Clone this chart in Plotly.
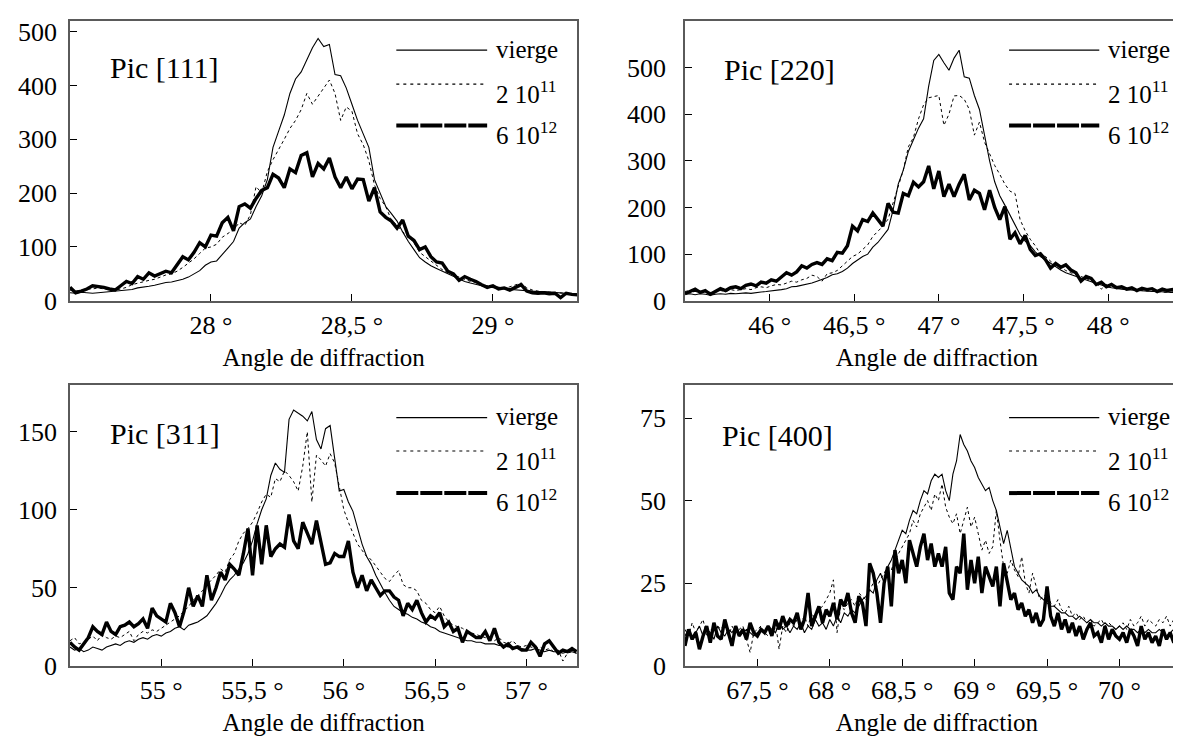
import plotly.graph_objects as go

# ---------------- data ----------------
SERIES_NAMES = ["vierge", "2 10<sup>11</sup>", "6 10<sup>12</sup>"]
PEAK_LABELS = ["Pic [111]", "Pic [220]", "Pic [311]", "Pic [400]"]
AXIS_TITLE = "Angle de diffraction"

# measurement grids (diffraction angle, degrees)
ANGLE_111 = [round(27.50 + 0.02 * i, 3) for i in range(91)]
ANGLE_220 = [round(45.50 + 0.03 * i, 3) for i in range(100)]
ANGLE_311 = [round(54.50 + 0.025 * i, 3) for i in range(112)]
ANGLE_400 = [round(67.00 + 0.025 * i, 3) for i in range(140)]

# Pic [111]
VIERGE_111 = [15, 14, 16, 15, 14, 15, 16, 17, 17, 18,
              19, 21, 24, 25, 27, 29, 32, 34, 35, 37,
              40, 44, 50, 56, 66, 72, 74, 85, 98, 110,
              135, 145, 152, 175, 195, 225, 285, 315, 345, 385,
              412, 425, 448, 470, 487, 472, 476, 420, 418, 395,
              365, 335, 310, 285, 225, 200, 175, 162, 148, 128,
              110, 95, 80, 72, 65, 60, 55, 50, 45, 40,
              36, 33, 30, 28, 26, 24, 23, 22, 21, 20,
              20, 19, 18, 17, 17, 16, 15, 15, 14, 13,
              13]
DOSE1_111 = [20, 18, 20, 22, 22, 24, 22, 21, 20, 22,
             25, 30, 33, 36, 38, 40, 44, 48, 50, 55,
             62, 70, 78, 88, 98, 100, 105, 118, 125, 132,
             145, 140, 160, 212, 200, 240, 262, 280, 300, 320,
             335, 355, 385, 365, 380, 395, 410, 385, 335, 360,
             352, 310, 290, 260, 215, 190, 175, 150, 140, 128,
             120, 108, 90, 82, 74, 65, 58, 52, 48, 43,
             40, 36, 34, 30, 28, 27, 26, 24, 26, 30,
             33, 24, 20, 18, 17, 17, 15, 14, 13, 13,
             12]
DOSE2_111 = [25, 15, 18, 22, 28, 27, 25, 22, 20, 28,
             36, 32, 45, 40, 52, 46, 50, 55, 52, 66,
             82, 76, 90, 108, 100, 122, 120, 145, 155, 130,
             175, 180, 172, 190, 205, 210, 235, 228, 210, 245,
             238, 270, 275, 230, 255, 245, 265, 230, 210, 230,
             208, 226, 225, 185, 210, 165, 155, 148, 135, 150,
             120, 112, 95, 100, 82, 72, 70, 55, 50, 38,
             45, 40, 36, 30, 25, 28, 22, 24, 20, 25,
             30, 18, 15, 14, 15, 13, 14, 6, 14, 12,
             11]

# Pic [220]
VIERGE_220 = [14, 15, 13, 15, 14, 12, 14, 15, 14, 16,
              15, 16, 17, 16, 18, 19, 20, 21, 22, 24,
              26, 30, 31, 33, 35, 38, 42, 46, 50, 56,
              58, 63, 70, 80, 88, 95, 100, 115, 125, 140,
              153, 195, 250, 280, 320, 345, 370, 390, 460, 515,
              528, 510, 494, 520, 537, 480, 477, 440, 410, 355,
              300, 255, 225, 205, 185, 165, 142, 128, 118, 105,
              95, 88, 80, 72, 66, 60, 56, 52, 48, 44,
              40, 37, 34, 30, 28, 26, 25, 24, 23, 22,
              22, 21, 20, 20, 19, 19, 18, 18, 17, 17]
DOSE1_220 = [20, 22, 18, 22, 20, 18, 20, 22, 20, 24,
             22, 24, 26, 24, 28, 30, 28, 32, 35, 34,
             38, 42, 40, 45, 48, 55, 52, 42, 58, 60,
             65, 75, 85, 95, 100, 110, 120, 138, 150, 160,
             175, 210, 245, 280, 330, 350, 390, 420, 435, 438,
             440, 376, 400, 439, 440, 432, 410, 355, 383, 340,
             313, 290, 271, 250, 235, 230, 174, 150, 132, 118,
             100, 95, 85, 77, 72, 65, 60, 56, 52, 48,
             42, 40, 25, 35, 33, 30, 28, 27, 26, 24,
             22, 21, 20, 20, 19, 18, 18, 17, 17, 16]
DOSE2_220 = [15, 20, 25, 18, 22, 14, 20, 26, 22, 28,
             30, 26, 33, 36, 32, 40, 38, 45, 42, 52,
             60, 55, 62, 75, 70, 78, 82, 78, 90, 86,
             104, 102, 118, 160, 150, 174, 170, 188, 175, 160,
             209, 190, 188, 230, 225, 254, 244, 255, 289, 240,
             278, 223, 250, 223, 250, 271, 216, 237, 230, 195,
             237, 200, 174, 202, 132, 146, 122, 140, 110, 97,
             101, 88, 70, 80, 72, 77, 66, 60, 42, 52,
             48, 35, 40, 30, 35, 28, 30, 25, 28, 22,
             27, 24, 26, 20, 25, 22, 24, 18, 22, 20]

# Pic [311]
VIERGE_311 = [12, 10, 11, 9, 10, 12, 11, 10, 12, 13,
              14, 13, 15, 16, 15, 17, 18, 17, 19, 20,
              19, 21, 22, 24, 25, 23, 26, 27, 28, 30,
              32, 36, 40, 45, 51, 55, 58, 62, 66, 72,
              80, 91, 100, 107, 122, 130, 126, 124, 158, 164,
              162, 160, 157, 163, 145, 139, 152, 154, 133, 112,
              113, 105, 99, 88, 78, 70, 65, 58, 52, 47,
              42, 38, 36, 34, 33, 31, 30, 28, 27, 25,
              24, 22, 21, 20, 19, 18, 17, 16, 16, 15,
              15, 14, 14, 14, 13, 13, 12, 12, 11, 11,
              10, 10, 11, 10, 9, 10, 9, 9, 8, 9, 9, 8]
DOSE1_311 = [16, 18, 14, 15, 17, 19, 16, 20, 18, 17,
             19, 18, 20, 22, 16, 20, 22, 21, 23, 22,
             24, 26, 28, 30, 32, 35, 38, 42, 45, 48,
             52, 55, 58, 62, 60, 68, 72, 80, 85, 88,
             92, 98, 105, 110, 108, 120, 118, 125, 122, 118,
             112, 128, 150, 105, 135, 132, 128, 136, 130, 115,
             100, 92, 85, 78, 74, 70, 68, 64, 60, 56,
             54, 58, 61, 52, 50, 50, 48, 42, 40, 36,
             34, 38, 32, 28, 26, 25, 24, 22, 21, 20,
             19, 18, 17, 16, 18, 15, 14, 16, 13, 12,
             13, 12, 11, 12, 10, 11, 9, 10, 3, 8, 9, 8]
DOSE2_311 = [15, 12, 10, 14, 18, 25, 22, 20, 28, 22,
             20, 25, 26, 28, 25, 27, 30, 24, 37, 32,
             30, 28, 40, 34, 25, 35, 50, 38, 45, 38,
             58, 42, 50, 60, 55, 65, 62, 58, 72, 88,
             58, 90, 65, 90, 70, 75, 78, 76, 97, 80,
             75, 92, 85, 78, 93, 80, 65, 66, 72, 70,
             70, 80, 60, 50, 58, 48, 55, 50, 45, 48,
             48, 44, 42, 32, 40, 36, 42, 34, 28, 32,
             30, 34, 25, 28, 22, 24, 15, 22, 20, 18,
             18, 22, 16, 24, 15, 12, 14, 11, 12, 10,
             10, 15, 12, 6, 14, 16, 12, 8, 10, 9, 11, 9]

# Pic [400]
VIERGE_400 = [9, 11, 8, 10, 12, 9, 11, 10, 8, 12,
              10, 9, 11, 10, 12, 9, 10, 11, 10, 9,
              10, 11, 10, 12, 11, 10, 13, 11, 12, 10,
              12, 11, 13, 10, 12, 11, 14, 12, 13, 11,
              14, 12, 15, 13, 16, 15, 17, 16, 18, 20,
              21, 23, 22, 26, 28, 25, 30, 32, 35, 38,
              41, 40, 44, 47, 46, 50, 53, 52, 56, 58,
              57, 58, 53, 50, 58, 62, 70, 67, 65, 62,
              60, 57, 55, 53, 54, 50, 47, 42, 37, 41,
              35, 30, 28, 26, 25, 24, 22, 23, 21, 20,
              19, 18, 18, 17, 16, 16, 15, 15, 14, 15,
              14, 13, 14, 13, 13, 12, 13, 12, 12, 11,
              12, 11, 12, 11, 11, 10, 11, 10, 11, 10,
              10, 11, 10, 9, 10, 11, 10, 9, 8, 8]
DOSE1_400 = [11, 9, 13, 10, 12, 14, 9, 11, 10, 12,
             11, 13, 9, 12, 10, 11, 12, 8, 4, 10,
             11, 12, 10, 9, 11, 13, 5, 12, 10, 13,
             12, 14, 13, 15, 12, 16, 14, 17, 18, 20,
             22, 26, 10, 18, 17, 19, 20, 18, 22, 21,
             20, 23, 25, 24, 26, 28, 30, 29, 32, 34,
             36, 38, 40, 44, 42, 46, 48, 50, 47, 52,
             50, 55, 48, 45, 43, 46, 40, 44, 48, 42,
             45, 40, 35, 38, 34, 36, 47, 38, 30, 28,
             32, 29, 27, 33, 25, 22, 28, 24, 20, 21,
             22, 19, 18, 20, 17, 16, 18, 15, 16, 14,
             15, 13, 14, 12, 13, 14, 12, 13, 12, 11,
             12, 13, 11, 14, 12, 13, 15, 12, 14, 13,
             12, 14, 13, 15, 12, 14, 16, 13, 19, 15]
DOSE2_400 = [6, 11, 8, 10, 5, 9, 12, 7, 13, 9,
             8, 14, 10, 6, 12, 9, 11, 8, 13, 10,
             9, 11, 10, 12, 9, 14, 11, 15, 12, 14,
             13, 16, 11, 14, 22, 12, 15, 18, 13, 17,
             15, 19, 14, 20, 18, 22, 16, 13, 21, 19,
             12, 31, 28, 22, 13, 25, 30, 18, 35, 28,
             32, 25, 38, 34, 30, 36, 40, 32, 37, 30,
             34, 30, 36, 22, 20, 30, 28, 40, 23, 32,
             25, 33, 22, 30, 27, 24, 30, 18, 31, 25,
             20, 22, 17, 19, 15, 17, 13, 16, 12, 14,
             24, 15, 12, 16, 11, 14, 10, 13, 9, 12,
             8, 11, 13, 9, 10, 7, 12, 8, 11, 9,
             8, 10, 7, 11, 9, 6, 12, 8, 10, 7,
             9, 6, 11, 8, 10, 7, 9, 6, 8, 0]

X_TICKS_111 = [28, 28.5, 29]
X_TICKS_220 = [46, 46.5, 47, 47.5, 48]
X_TICKS_311 = [55, 55.5, 56, 56.5, 57]
X_TICKS_400 = [67.5, 68, 68.5, 69, 69.5, 70]
Y_TICKS_111 = [0, 100, 200, 300, 400, 500]
Y_TICKS_220 = [0, 100, 200, 300, 400, 500]
Y_TICKS_311 = [0, 50, 100, 150]
Y_TICKS_400 = [0, 25, 50, 75]

# ---------------- layout / style ----------------
FONT = "Liberation Serif"
AXIS_COLOR = "#5a5a5a"
STYLES = [dict(color="black", width=1.1, dash="solid"),
          dict(color="black", width=1.0, dash="3px,3px"),
          dict(color="black", width=3.4, dash="solid")]
LEGEND_LINES = [dict(color="black", width=1.3, dash="solid"),
                dict(color="black", width=1.2, dash="3px,4px"),
                dict(color="black", width=4.0, dash="22px,2px")]

LEFT_X = [0.0525, 0.4822]
RIGHT_X = [0.5732, 1.0]
TOP_Y = [0.5997, 0.9865]
BOT_Y = [0.0957, 0.4834]

TOP_LEG_LINE = [0.895, 0.774, 0.626]
TOP_LEG_TEXT = [0.899, 0.744, 0.601]
BOT_LEG_LINE = [0.884, 0.765, 0.615]
BOT_LEG_TEXT = [0.888, 0.735, 0.590]

panels = [
    dict(x=ANGLE_111, ys=[VIERGE_111, DOSE1_111, DOSE2_111], xr=[27.5, 29.3], yr=[0, 520],
         xt=X_TICKS_111, yt=Y_TICKS_111, xd=LEFT_X, yd=TOP_Y, right=False,
         ll=TOP_LEG_LINE, lt=TOP_LEG_TEXT, px=0.074, py=0.833),
    dict(x=ANGLE_220, ys=[VIERGE_220, DOSE1_220, DOSE2_220], xr=[45.5, 48.478], yr=[0, 600],
         xt=X_TICKS_220, yt=Y_TICKS_220, xd=RIGHT_X, yd=TOP_Y, right=True,
         ll=TOP_LEG_LINE, lt=TOP_LEG_TEXT, px=0.073, py=0.826),
    dict(x=ANGLE_311, ys=[VIERGE_311, DOSE1_311, DOSE2_311], xr=[54.5, 57.28], yr=[0, 180],
         xt=X_TICKS_311, yt=Y_TICKS_311, xd=LEFT_X, yd=BOT_Y, right=False,
         ll=BOT_LEG_LINE, lt=BOT_LEG_TEXT, px=0.074, py=0.827),
    dict(x=ANGLE_400, ys=[VIERGE_400, DOSE1_400, DOSE2_400], xr=[67.0, 70.48], yr=[0, 85],
         xt=X_TICKS_400, yt=Y_TICKS_400, xd=RIGHT_X, yd=BOT_Y, right=True,
         ll=BOT_LEG_LINE, lt=BOT_LEG_TEXT, px=0.069, py=0.820),
]

fig = go.Figure()
layout = dict(
    width=1181, height=742,
    margin=dict(l=0, r=0, t=0, b=0),
    paper_bgcolor="white", plot_bgcolor="white",
    font=dict(family=FONT, size=25, color="black"),
    showlegend=False,
)
shapes = []
annotations = []

for k, p in enumerate(panels):
    n = "" if k == 0 else str(k + 1)
    xa, ya = "x" + n, "y" + n
    for s, yv in enumerate(p["ys"]):
        fig.add_trace(go.Scatter(x=p["x"], y=yv, mode="lines", name=SERIES_NAMES[s],
                                 line=STYLES[s], xaxis=xa, yaxis=ya))
    layout["xaxis" + n] = dict(
        domain=p["xd"], range=p["xr"], anchor=ya,
        showline=True, linecolor=AXIS_COLOR, linewidth=1.5, mirror=True,
        showgrid=False, zeroline=False,
        ticks="inside", ticklen=7, tickcolor="black", tickwidth=1,
        tickvals=p["xt"],
        ticktext=[(f"{v:g}".replace(".", ",")) + " °" for v in p["xt"]],
        tickfont=dict(family=FONT, size=26),
        title=dict(text=AXIS_TITLE, font=dict(family=FONT, size=25), standoff=10),
    )
    layout["yaxis" + n] = dict(
        domain=p["yd"], range=p["yr"], anchor=xa,
        showline=True, linecolor=AXIS_COLOR, linewidth=1.5, mirror=not p["right"],
        showgrid=False, zeroline=False,
        ticks="inside", ticklen=7, tickcolor="black", tickwidth=1,
        tickvals=p["yt"], tickfont=dict(family=FONT, size=26),
        ticklabelstandoff=12 if p["right"] else 6,
    )
    xdom = xa + " domain"
    ydom = ya + " domain"
    for s in range(3):
        shapes.append(dict(type="line", xref=xdom, yref=ydom, x0=0.643, x1=0.822,
                           y0=p["ll"][s], y1=p["ll"][s], line=LEGEND_LINES[s]))
        annotations.append(dict(xref=xdom, yref=ydom, x=0.836, y=p["lt"][s],
                                xanchor="left", yanchor="middle", text=SERIES_NAMES[s],
                                showarrow=False, font=dict(family=FONT, size=25)))
    annotations.append(dict(xref=xdom, yref=ydom, x=p["px"], y=p["py"], xanchor="left",
                            yanchor="middle", text=PEAK_LABELS[k], showarrow=False,
                            font=dict(family=FONT, size=30)))

layout["shapes"] = shapes
layout["annotations"] = annotations
fig.update_layout(**layout)
fig.write_html("out.html")
